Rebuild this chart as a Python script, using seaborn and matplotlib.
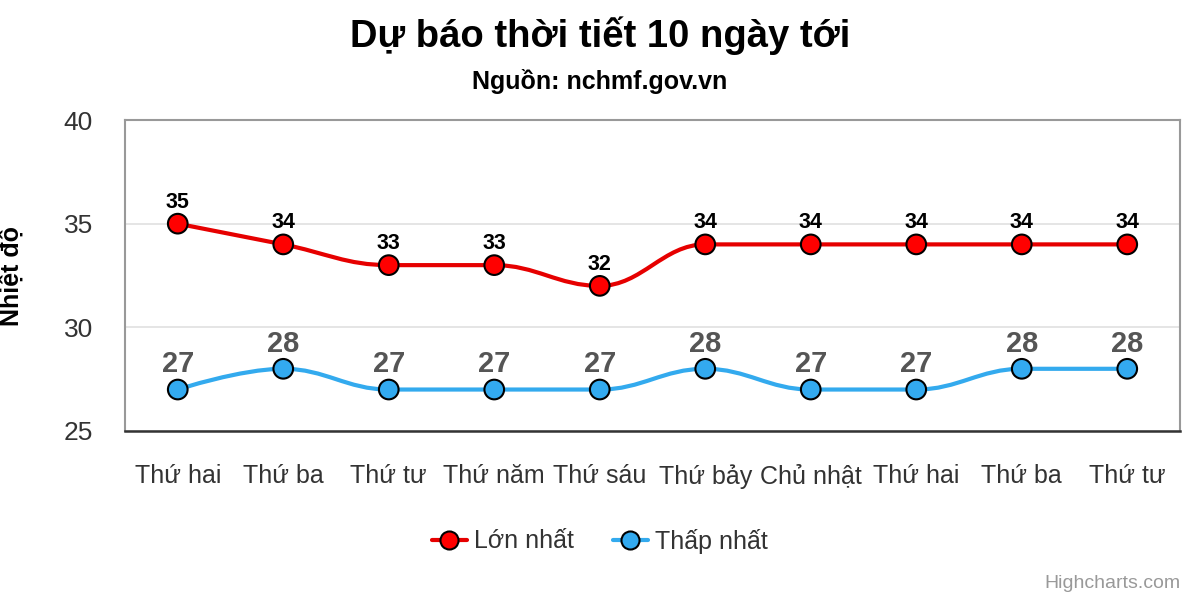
import numpy as np
import pandas as pd
import matplotlib
matplotlib.use("Agg")
import matplotlib.pyplot as plt
from matplotlib.path import Path
from matplotlib.patches import PathPatch
from matplotlib.lines import Line2D
import seaborn as sns

days = ["Thứ hai", "Thứ ba", "Thứ tư", "Thứ năm", "Thứ sáu", "Thứ bảy",
        "Chủ nhật", "Thứ hai", "Thứ ba", "Thứ tư"]
high = [35, 34, 33, 33, 32, 34, 34, 34, 34, 34]
low = [27, 28, 27, 27, 27, 28, 27, 27, 28, 28]
series_names = ["Lớn nhất", "Thấp nhất"]
y_ticks = [25, 30, 35, 40]

sns.set_theme(style="white")
plt.rcParams['font.family'] = ['Liberation Sans', 'DejaVu Sans']

RED = "#e60000"
RED_M = "#ff0000"
BLUE = "#33aaee"
BLUE_M = "#33aaf0"


def spline_path(xs, ys, smoothing=1.5):
    denom = smoothing + 1
    n = len(xs)
    lc = [None] * n
    rc = [None] * n
    for i in range(n):
        px, py = xs[i], ys[i]
        if 0 < i < n - 1:
            lx, ly = xs[i - 1], ys[i - 1]
            nx, ny = xs[i + 1], ys[i + 1]
            lcx = (smoothing * px + lx) / denom
            lcy = (smoothing * py + ly) / denom
            rcx = (smoothing * px + nx) / denom
            rcy = (smoothing * py + ny) / denom
            corr = 0
            if rcx != lcx:
                corr = ((rcy - lcy) * (rcx - px)) / (rcx - lcx) + py - rcy
            lcy += corr
            rcy += corr
            if lcy > ly and lcy > py:
                lcy = max(ly, py)
                rcy = 2 * py - lcy
            elif lcy < ly and lcy < py:
                lcy = min(ly, py)
                rcy = 2 * py - lcy
            if rcy > ny and rcy > py:
                rcy = max(ny, py)
                lcy = 2 * py - rcy
            elif rcy < ny and rcy < py:
                rcy = min(ny, py)
                lcy = 2 * py - rcy
            lc[i] = (lcx, lcy)
            rc[i] = (rcx, rcy)
        else:
            lc[i] = (px, py)
            rc[i] = (px, py)
    verts = [(xs[0], ys[0])]
    codes = [Path.MOVETO]
    for i in range(1, n):
        verts += [rc[i - 1], lc[i], (xs[i], ys[i])]
        codes += [Path.CURVE4] * 3
    return Path(verts, codes)


fig = plt.figure(figsize=(12, 6), dpi=100)
ax = fig.add_axes([125 / 1200, 1 - 431 / 600, 1055 / 1200, 311 / 600])

x = np.arange(len(days))
df = pd.DataFrame({
    "x": np.concatenate([x, x]),
    "value": high + low,
    "series": [series_names[0]] * len(days) + [series_names[1]] * len(days),
})

for vals, col in [(high, RED), (low, BLUE)]:
    p = spline_path(list(x.astype(float)), [float(v) for v in vals])
    ax.add_patch(PathPatch(p, facecolor="none", edgecolor=col, lw=3, zorder=3))

sns.scatterplot(data=df, x="x", y="value", hue="series",
                palette={series_names[0]: RED_M, series_names[1]: BLUE_M},
                s=200, edgecolor="black", linewidth=1.5, zorder=4, ax=ax,
                legend=False)

for xi, v in zip(x, high):
    ax.annotate(str(v), (xi, v), xytext=(0, 8), textcoords="offset points",
                ha="center", va="bottom", fontsize=15.5, fontweight="bold",
                color="black", zorder=5)
for xi, v in zip(x, low):
    ax.annotate(str(v), (xi, v), xytext=(0, 8), textcoords="offset points",
                ha="center", va="bottom", fontsize=21, fontweight="bold",
                color="#555555", zorder=5)

ax.set_xlim(-0.5, len(days) - 0.5)
ax.set_ylim(25, 40)
ax.set_yticks(y_ticks)
ax.set_xticks(x)
ax.set_xticklabels(days)
ax.tick_params(axis="x", labelsize=18, colors="#333333", pad=24, length=0)
ax.tick_params(axis="y", labelsize=19, colors="#333333", pad=23, length=0)
ax.grid(axis="y", color="#e0e0e0", lw=1.2)
ax.set_axisbelow(True)
for s in ["left", "top", "right"]:
    ax.spines[s].set_color("#999999")
    ax.spines[s].set_linewidth(1.5)
ax.spines["bottom"].set_color("#333333")
ax.spines["bottom"].set_linewidth(1.8)
ax.set_xlabel("")
ax.set_ylabel("Nhiệt độ", fontsize=18, fontweight="bold", color="black",
              labelpad=0, va="center")
ax.yaxis.set_label_coords(-113 / 1055, 0.5)

fig.text(0.5, 1 - 36 / 600, "Dự báo thời tiết 10 ngày tới", ha="center",
         va="center", fontsize=27.5, fontweight="bold", color="black")
fig.text(0.5, 1 - 81 / 600, "Nguồn: nchmf.gov.vn", ha="center",
         va="center", fontsize=18, fontweight="bold", color="black")

handles = [
    Line2D([0], [0], color=RED, lw=3, marker="o", markersize=13,
           markerfacecolor=RED_M, markeredgecolor="black", markeredgewidth=1.5),
    Line2D([0], [0], color=BLUE, lw=3, marker="o", markersize=13,
           markerfacecolor=BLUE_M, markeredgecolor="black", markeredgewidth=1.5),
]
leg = fig.legend(handles, series_names, loc="center",
                 bbox_to_anchor=(0.5, 1 - 541 / 600), ncol=2, frameon=False,
                 fontsize=18, handlelength=1.4, columnspacing=1.55,
                 handletextpad=0.3)
for t in leg.get_texts():
    t.set_color("#333333")

fig.text(1 - 20 / 1200, 1 - 583 / 600, "Highcharts.com", ha="right",
         va="center", fontsize=14, color="#999999")

fig.savefig("out.png", dpi=100)
